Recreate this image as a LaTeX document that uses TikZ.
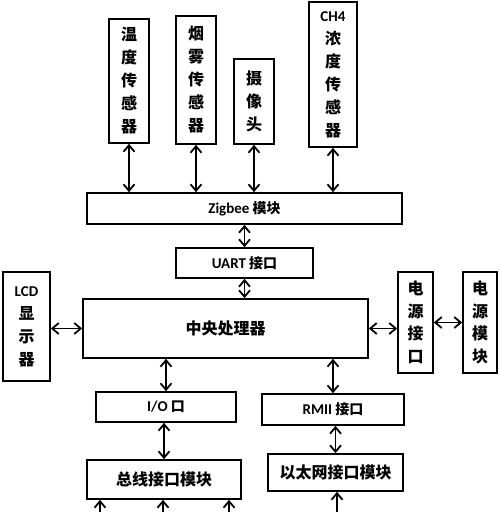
\documentclass[tikz,border=0pt]{standalone}
\usepackage{fontspec}
\setmainfont{Noto Sans CJK SC}
\newfontfamily\lat{Carlito}
\usetikzlibrary{arrows.meta}
\begin{document}
\begin{tikzpicture}[x=1pt,y=-1pt,
  box/.style={draw,line width=1.7pt,inner sep=0pt,font=\bfseries,align=center},
  vbox/.style={box,font=\bfseries\fontsize{16}{23}\selectfont},
  hbox/.style={box,font=\bfseries\fontsize{14}{16}\selectfont},
  bigbox/.style={box,font=\bfseries\fontsize{16}{18}\selectfont},
  conn/.style={line width=1.8pt,{Straight Barb[length=6.5pt,width=11pt]}-{Straight Barb[length=6.5pt,width=11pt]}},
  up/.style={line width=1.8pt,{Straight Barb[length=6.5pt,width=11pt]}-}]
\useasboundingbox[fill=white] (0,0) rectangle (500,512);
% sensors
\node[vbox,minimum width=40,minimum height=124] (temp) at (129,81) {温\\度\\传\\感\\器};
\node[vbox,minimum width=40,minimum height=128] (smoke) at (196,80) {烟\\雾\\传\\感\\器};
\node[vbox,minimum width=40,minimum height=85] (cam) at (254,101.5) {摄\\像\\头};
\node[vbox,minimum width=48,minimum height=145] (ch4) at (333,74.5) {{\lat\bfseries\fontsize{15}{23}\selectfont CH4}\\浓\\度\\传\\感\\器};
% zigbee
\node[hbox,minimum width=315,minimum height=31] (zig) at (244.5,208.5) {{\lat\bfseries\fontsize{15}{16}\selectfont Zigbee} 模块};
\node[hbox,minimum width=137,minimum height=30] (uart) at (244.5,263) {{\lat\bfseries\fontsize{15}{16}\selectfont UART} 接口};
\node[bigbox,minimum width=285,minimum height=59] (cpu) at (225.5,328.5) {中央处理器};
\node[vbox,minimum width=47,minimum height=109] (lcd) at (26.5,326.5) {{\lat\bfseries\fontsize{15}{23}\selectfont LCD}\\显\\示\\器};
\node[vbox,minimum width=35,minimum height=101,font=\bfseries\fontsize{16}{22.5}\selectfont] (pif) at (415.5,322.5) {电\\源\\接\\口};
\node[vbox,minimum width=34,minimum height=101,font=\bfseries\fontsize{16}{22.5}\selectfont] (pmod) at (480,322.5) {电\\源\\模\\块};
\node[hbox,minimum width=140,minimum height=30] (io) at (166,407) {{\lat\bfseries\fontsize{15}{16}\selectfont I/O} 口};
\node[bigbox,minimum width=154,minimum height=39] (bus) at (164,479.5) {总线接口模块};
\node[hbox,minimum width=142,minimum height=31] (rmii) at (333,409.5) {{\lat\bfseries\fontsize{15}{16}\selectfont RMII} 接口};
\node[bigbox,minimum width=135,minimum height=37] (eth) at (335.5,472.5) {以太网接口模块};
% connectors
\draw[conn] (temp.south) -- (temp.south |- zig.north);
\draw[conn] (smoke.south) -- (smoke.south |- zig.north);
\draw[conn] (cam.south) -- (cam.south |- zig.north);
\draw[conn] (ch4.south) -- (ch4.south |- zig.north);
\draw[conn] (uart.north) -- (uart.north |- zig.south);
\draw[conn] (uart.south) -- (uart.south |- cpu.north);
\draw[conn] (lcd.east |- cpu.west) -- (cpu.west);
\draw[conn] (cpu.east) -- (cpu.east -| pif.west);
\draw[conn] (pif.east) -- (pmod.west);
\draw[conn] (io.north |- cpu.south) -- (io.north);
\draw[conn] (rmii.north |- cpu.south) -- (rmii.north);
\draw[conn] (io.south -| bus.north) -- (bus.north);
\draw[conn] (rmii.south -| eth.north) -- (eth.north);
\coordinate (b1) at (100,512);
\coordinate (b2) at (163,512);
\coordinate (b3) at (229,512);
\coordinate (b4) at (337,512);
\draw[up] (bus.south -| b1) -- (b1);
\draw[up] (bus.south -| b2) -- (b2);
\draw[up] (bus.south -| b3) -- (b3);
\draw[up] (eth.south -| b4) -- (b4);
\end{tikzpicture}
\end{document}
